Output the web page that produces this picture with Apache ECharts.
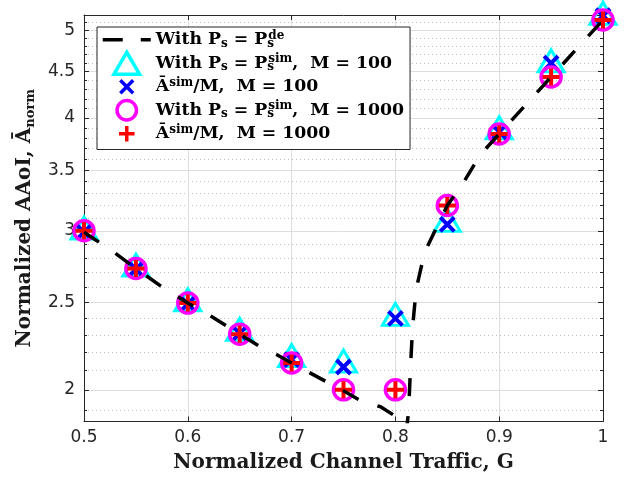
<!DOCTYPE html>
<html>
<head>
<meta charset="utf-8">
<script src="https://cdn.jsdelivr.net/npm/echarts@6/dist/echarts.min.js"></script>
<style>
  html, body { margin: 0; padding: 0; background: #fff; }
  #chart { width: 630px; height: 479px; }
</style>
</head>
<body>
<div id="chart"></div>
<script>
// normalized channel traffic G of the simulation points
var trafficG = [0.5, 0.55, 0.6, 0.65, 0.7, 0.75, 0.8, 0.85, 0.9, 0.95, 1.0];
// With Ps = Ps^sim, M = 100 (triangles) and Abar^sim/M, M = 100 (crosses)
var simM100 = [2.99, 2.72, 2.49, 2.31, 2.16, 2.13, 2.40, 3.05, 3.86, 4.58, 5.17];
var avgM100 = [2.99, 2.72, 2.49, 2.31, 2.16, 2.12, 2.40, 3.05, 3.86, 4.60, 5.19];
// With Ps = Ps^sim, M = 1000 (circles) and Abar^sim/M, M = 1000 (plus)
var simM1000 = [3.0, 2.725, 2.495, 2.305, 2.142, 2.0, 2.0, 3.2, 3.84, 4.44, 5.135];
var avgM1000 = [3.0, 2.725, 2.495, 2.305, 2.142, 2.0, 2.0, 3.2, 3.84, 4.44, 5.135];
// With Ps = Ps^de (dashed curve)
var deG = [0.5, 0.5087, 0.53, 0.55, 0.5753, 0.6, 0.6236, 0.65, 0.67, 0.6863, 0.7, 0.7355, 0.75,
  0.7683, 0.7857, 0.8, 0.808, 0.8105, 0.8127, 0.8147, 0.8166, 0.82, 0.8282, 0.85, 0.864, 0.882,
  0.9, 0.95, 1.0];
var deVal = [2.99, 2.944, 2.834, 2.725, 2.60, 2.495, 2.408, 2.305, 2.231, 2.186, 2.142, 2.036, 1.995,
  1.94, 1.916, 1.87, 1.845, 1.80, 1.891, 2.137, 2.348, 2.586, 2.841, 3.2, 3.37, 3.644,
  3.84, 4.44, 5.135];
// y axis (log) ticks
var yMajor = [2, 2.5, 3, 3.5, 4, 4.5, 5];
var yMinor = [1.9, 2.1, 2.2, 2.3, 2.4, 2.6, 2.7, 2.8, 2.9, 3.1, 3.2, 3.3, 3.4, 3.6, 3.7, 3.8, 3.9,
  4.1, 4.2, 4.3, 4.4, 4.6, 4.7, 4.8, 4.9, 5.1];

var axisColor = '#262626';
var serif = 'DejaVu Serif';
var triPath = 'path://M14,0L28,24L0,24Z';
var crossPath = 'path://M0,0M24,24M5,5L19,19M19,5L5,19';
var plusPath = 'path://M0,0M24,24M12,3.5L12,20.5M3.5,12L20.5,12';
// legend-only icons (padded so every icon box is the same size)
var dashIcon = 'path://M0,0M48,22M0,11L20,11M38,11L48,11';
var ringIcon = 'path://M0,0M24,24M22.6,12A10.6,10.6,0,1,1,1.4,12A10.6,10.6,0,1,1,22.6,12Z';

function pairs(xs, ys) {
  return xs.map(function (x, i) { return [x, ys[i]]; });
}

var legendText = {
  de: '{t|With P}{sub|s}{t| = P}{subn|s}{sup|de}',
  sim100: '{t|With P}{sub|s}{t| = P}{subn|s}{sup|sim}{t|,  M = 100}',
  avg100: '{t|Ā}{sup|sim}{t|/M,  M = 100}',
  sim1000: '{t|With P}{sub|s}{t| = P}{subn|s}{sup|sim}{t|,  M = 1000}',
  avg1000: '{t|Ā}{sup|sim}{t|/M,  M = 1000}'
};

function iconStyle(c) {
  return { color: 'rgba(0,0,0,0)', borderColor: c, borderWidth: 3.5, opacity: 1 };
}

function yAxisOf(pos, ticks, len, main, split) {
  return {
    type: 'log',
    position: pos,
    min: 1.845,
    max: 5.2,
    axisLine: { show: main, lineStyle: { color: axisColor, width: 1 } },
    axisTick: { show: true, inside: true, length: len, customValues: ticks,
      lineStyle: { color: axisColor, width: 1 } },
    axisLabel: {
      show: main && pos === 'left',
      customValues: ticks,
      margin: 9,
      fontFamily: 'DejaVu Sans',
      fontSize: 17,
      color: axisColor,
      formatter: function (v) { return String(Math.round(v * 10) / 10); }
    },
    splitLine: split
  };
}

var chart = echarts.init(document.getElementById('chart'), null, { renderer: 'canvas' });
chart.setOption({
  animation: false,
  backgroundColor: '#fff',
  grid: { left: 84, right: 27, top: 15, bottom: 57.5, outerBoundsMode: 'none' },
  legend: {
    orient: 'vertical',
    left: 97,
    top: 27,
    padding: [0, 6, 3, 4],
    itemWidth: 48,
    itemHeight: 22,
    itemGap: -2,
    backgroundColor: '#fff',
    borderColor: axisColor,
    borderWidth: 1,
    borderRadius: 0,
    selectedMode: false,
    formatter: function (name) { return legendText[name]; },
    textStyle: {
      rich: {
        t: { fontFamily: serif, fontWeight: 'bold', fontSize: 17.3, lineHeight: 20, color: '#000' },
        sub: { fontFamily: serif, fontWeight: 'bold', fontSize: 12, lineHeight: 12, verticalAlign: 'bottom', color: '#000' },
        subn: { fontFamily: serif, fontWeight: 'bold', fontSize: 12, lineHeight: 12, width: 1, verticalAlign: 'bottom', color: '#000' },
        sup: { fontFamily: serif, fontWeight: 'bold', fontSize: 12, lineHeight: 12, verticalAlign: 'top', color: '#000' }
      }
    },
    data: [
      { name: 'de', icon: dashIcon, itemStyle: iconStyle('#000') },
      { name: 'sim100', icon: triPath, itemStyle: iconStyle('#00ffff') },
      { name: 'avg100', icon: crossPath, itemStyle: iconStyle('#0000ff') },
      { name: 'sim1000', icon: ringIcon, itemStyle: iconStyle('#ff00ff') },
      { name: 'avg1000', icon: plusPath, itemStyle: iconStyle('#ff0000') }
    ]
  },
  xAxis: [
    {
      type: 'value', position: 'bottom', min: 0.5, max: 1, interval: 0.1,
      name: 'Normalized Channel Traffic, G',
      nameLocation: 'middle',
      nameGap: 31,
      nameTextStyle: { fontFamily: serif, fontWeight: 'bold', fontSize: 20, color: '#1a1a1a' },
      axisLine: { lineStyle: { color: axisColor, width: 1 } },
      axisTick: { inside: true, length: 5, lineStyle: { color: axisColor } },
      axisLabel: { margin: 8, fontFamily: 'DejaVu Sans', fontSize: 17, color: axisColor },
      splitLine: { show: true, lineStyle: { color: '#dedede', width: 1 } }
    },
    {
      type: 'value', position: 'top', min: 0.5, max: 1, interval: 0.1,
      axisLine: { lineStyle: { color: axisColor, width: 1 } },
      axisTick: { inside: true, length: 5, lineStyle: { color: axisColor } },
      axisLabel: { show: false },
      splitLine: { show: false }
    }
  ],
  yAxis: [
    Object.assign(yAxisOf('left', yMajor, 5, true, { show: true, lineStyle: { color: '#dedede', width: 1 } }), {
      name: '{t|Normalized AAoI, Ā}{sub|norm}',
      nameLocation: 'middle',
      nameGap: 46,
      nameTextStyle: {
        rich: {
          t: { fontFamily: serif, fontWeight: 'bold', fontSize: 20, lineHeight: 24, color: '#1a1a1a' },
          sub: { fontFamily: serif, fontWeight: 'bold', fontSize: 13, lineHeight: 14, verticalAlign: 'bottom', color: '#1a1a1a' }
        }
      }
    }),
    yAxisOf('left', yMinor, 3, false, { show: true, lineStyle: { color: '#c2c2c2', width: 1, type: [1, 3] } }),
    yAxisOf('right', yMajor, 5, true, { show: false }),
    yAxisOf('right', yMinor, 3, false, { show: false })
  ],
  series: [
    {
      name: 'de', type: 'line', data: pairs(deG, deVal),
      symbol: 'none', showSymbol: false, clip: true,
      lineStyle: { color: '#000', width: 3.5, type: [18, 20] },
      itemStyle: { color: '#000' }
    },
    {
      name: 'sim100', type: 'scatter', data: pairs(trafficG, simM100), clip: false,
      symbol: triPath, symbolSize: [26, 22], symbolOffset: [0, -4],
      itemStyle: { color: 'rgba(0,0,0,0)', borderColor: '#00ffff', borderWidth: 3, opacity: 1 }
    },
    {
      name: 'avg100', type: 'scatter', data: pairs(trafficG, avgM100), clip: false,
      symbol: crossPath, symbolSize: 24,
      itemStyle: { color: 'rgba(0,0,0,0)', borderColor: '#0000ff', borderWidth: 4, opacity: 1 }
    },
    {
      name: 'sim1000', type: 'scatter', data: pairs(trafficG, simM1000), clip: false,
      symbol: 'circle', symbolSize: 20,
      itemStyle: { color: 'rgba(0,0,0,0)', borderColor: '#ff00ff', borderWidth: 3.5, opacity: 1 }
    },
    {
      name: 'avg1000', type: 'scatter', data: pairs(trafficG, avgM1000), clip: false,
      symbol: plusPath, symbolSize: 24,
      itemStyle: { color: 'rgba(0,0,0,0)', borderColor: '#ff0000', borderWidth: 4, opacity: 1 }
    }
  ]
});
</script>
</body>
</html>
